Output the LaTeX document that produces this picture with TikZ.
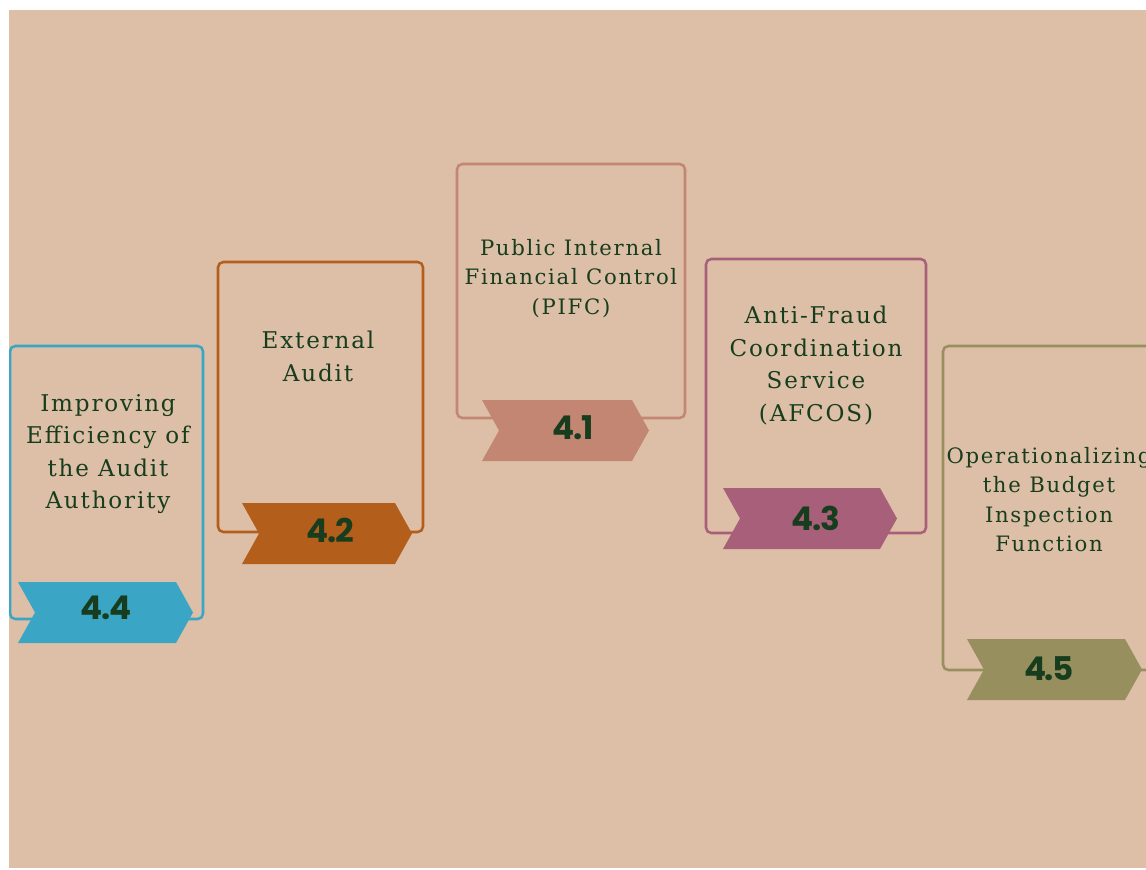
\documentclass[tikz,border=0pt]{standalone}
\usepackage{fontspec}
\newfontfamily\cardfont[LetterSpace=8]{DejaVu Serif}
\newfontfamily\numfont[LetterSpace=-4]{Poppins}
\definecolor{bg}{HTML}{DDBFA7}
\definecolor{ink}{HTML}{173D1E}
\definecolor{cblue}{HTML}{3BA5C6}
\definecolor{corange}{HTML}{B35F1B}
\definecolor{csalmon}{HTML}{C38672}
\definecolor{cmauve}{HTML}{A8607A}
\definecolor{colive}{HTML}{978F5E}
% chevron tag: #1 left x, #2 top y, #3 length to the tip, #4 colour
\newcommand\tagshape[4]{%
  \fill[#4] (#1,#2) -- ++(#3-17,0) -- ++(17,30.5) -- ++(-17,30.5)
    -- ++(-#3+17,0) -- ++(17,-30.5) -- cycle;}
\begin{document}
\begin{tikzpicture}[x=0.75pt,y=-0.75pt,
  card/.style={line width=1.9pt, rounded corners=4pt},
  biglabel/.style={text=ink, align=center, inner sep=0pt,
    font=\cardfont\fontsize{17.3}{24.4}\selectfont},
  smalllabel/.style={text=ink, align=center, inner sep=0pt,
    font=\cardfont\fontsize{15.9}{22}\selectfont},
  num/.style={text=ink, inner sep=0pt,
    font=\numfont\bfseries\fontsize{24.5}{24.5}\selectfont}]
\useasboundingbox (0,0) rectangle (1146,869);
\fill[white] (0,0) rectangle (1146,869);
\fill[bg] (9,10) rectangle (1146,868);
\begin{scope}
  \clip (9,10) rectangle (1146,868);
  % card frames
  \draw[card, draw=cblue]   (10,346) rectangle (203,619);
  \draw[card, draw=corange] (218,262) rectangle (423,532);
  \draw[card, draw=csalmon] (457,164) rectangle (685,418);
  \draw[card, draw=cmauve]  (706,259) rectangle (926,533);
  \draw[card, draw=colive]  (943,346) rectangle (1170,670);
  % number tags
  \tagshape{18}{582}{175}{cblue}
  \tagshape{242}{503}{170}{corange}
  \tagshape{482}{400}{167}{csalmon}
  \tagshape{723}{488}{174}{cmauve}
  \tagshape{967}{639}{175}{colive}
  % card titles
  \node[biglabel]   (t44) at (108,454) {Improving\\Efficiency of\\the Audit\\Authority};
  \node[biglabel]   (t42) at (318,356.5) {External\\Audit};
  \node[smalllabel] (t41) at (571,278.5) {Public Internal\\Financial Control\\(PIFC)};
  \node[biglabel]   (t43) at (816,365.5) {Anti-Fraud\\Coordination\\Service\\(AFCOS)};
  \node[smalllabel] (t45) at (1049,499.5) {Operationalizing\\the Budget\\Inspection\\Function};
\end{scope}
% tag numbers
\node[num] (n44) at (106,608) {4.4};
\node[num] (n42) at (330,530) {4.2};
\node[num] (n41) at (573,428) {4.1};
\node[num] (n43) at (816,518) {4.3};
\node[num] (n45) at (1049,669) {4.5};
\end{tikzpicture}
\end{document}
